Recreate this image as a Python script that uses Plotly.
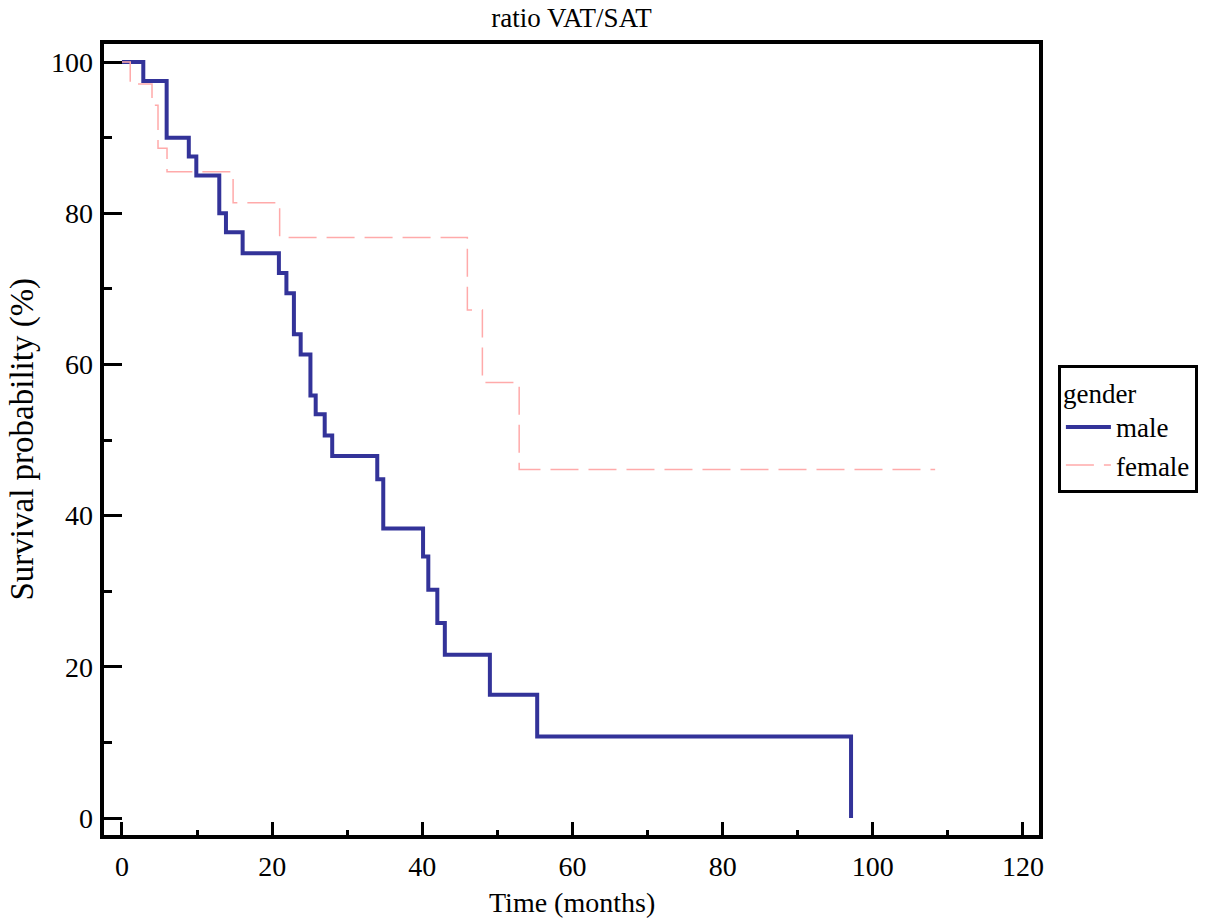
import plotly.graph_objects as go

# Kaplan-Meier step data (time in months, survival %)
male_time = [0, 2.84, 5.95, 8.9, 9.9, 12.96, 13.85, 16.07, 20.9, 21.9, 22.9, 23.8,
             25.1, 25.8, 27.0, 28.0, 34.0, 34.8, 40.1, 40.8, 42.0, 43.0, 49.0, 55.3, 97.1]
male_surv = [100, 97.5, 90.0, 87.5, 85.0, 80.0, 77.5, 74.7, 72.1, 69.4, 64.0, 61.3,
             55.9, 53.4, 50.6, 47.9, 44.8, 38.3, 34.6, 30.2, 25.8, 21.6, 16.3, 10.8, 0]

female_time = [0, 1.1, 4.0, 4.8, 6.0, 14.8, 21.0, 46.0, 48.0, 52.9, 108.3]
female_surv = [100, 97.1, 94.3, 88.6, 85.5, 81.4, 76.8, 67.2, 57.6, 46.1, 46.1]

x_ticks = [0, 20, 40, 60, 80, 100, 120]
y_ticks = [0, 20, 40, 60, 80, 100]

FONT = "Liberation Serif, Times New Roman, serif"

fig = go.Figure()
fig.add_trace(go.Scatter(x=male_time, y=male_surv, mode="lines", name="male",
                         line=dict(shape="hv", color="#333399", width=4)))
fig.add_trace(go.Scatter(x=female_time, y=female_surv, mode="lines", name="female",
                         line=dict(shape="hv", color="#ffaaaa", width=1.5, dash="28px,10px")))

W, H = 1223, 920
L, R, T, B = 102, 182, 42, 83

fig.update_layout(
    width=W, height=H,
    margin=dict(l=L, r=R, t=T, b=B),
    paper_bgcolor="white", plot_bgcolor="white",
    font=dict(family=FONT, size=27, color="black"),
    title=dict(text="ratio VAT/SAT", x=0.5, xref="paper", xanchor="center",
               y=1 - 18 / H, yref="container", yanchor="middle",
               font=dict(family=FONT, size=27, color="black")),
    showlegend=True,
    legend=dict(title=dict(text="gender", font=dict(family=FONT, size=27)),
                font=dict(family=FONT, size=27),
                x=1.018, xanchor="left", y=0.594, yanchor="top",
                bordercolor="black", borderwidth=3, bgcolor="white",
                tracegroupgap=0, itemwidth=45),
    xaxis=dict(range=[-2.66, 122.4], tickvals=x_ticks, ticktext=[str(v) for v in x_ticks],
               ticks="inside", ticklen=15, tickwidth=3, tickcolor="black",
               showgrid=False, zeroline=False, showline=False,
               ticklabelstandoff=10,
               minor=dict(ticks="inside", ticklen=7, tickwidth=3, tickcolor="black", dtick=10, tick0=0),
               tickfont=dict(family=FONT, size=28)),
    yaxis=dict(range=[-2.51, 102.65], tickvals=y_ticks, ticktext=[str(v) for v in y_ticks],
               ticks="inside", ticklen=20, tickwidth=3, tickcolor="black",
               showgrid=False, zeroline=False, showline=False,
               ticklabelstandoff=8,
               minor=dict(ticks="inside", ticklen=10, tickwidth=3, tickcolor="black", dtick=10, tick0=0),
               tickfont=dict(family=FONT, size=28)),
    shapes=[dict(type="rect", xref="paper", yref="paper", x0=0, x1=1, y0=0, y1=1,
                 line=dict(color="black", width=4), layer="above")],
    annotations=[
        dict(text="Time (months)", xref="paper", yref="paper", x=0.5, y=(837 - 920) / 795,
             xanchor="center", yanchor="bottom", showarrow=False,
             font=dict(family=FONT, size=28)),
        dict(text="Survival probability (%)", xref="paper", yref="paper",
             x=(22 - L) / (W - L - R), y=0.5, xanchor="center", yanchor="middle",
             textangle=-90, showarrow=False, font=dict(family=FONT, size=33)),
    ],
)

fig.write_html("out.html")
